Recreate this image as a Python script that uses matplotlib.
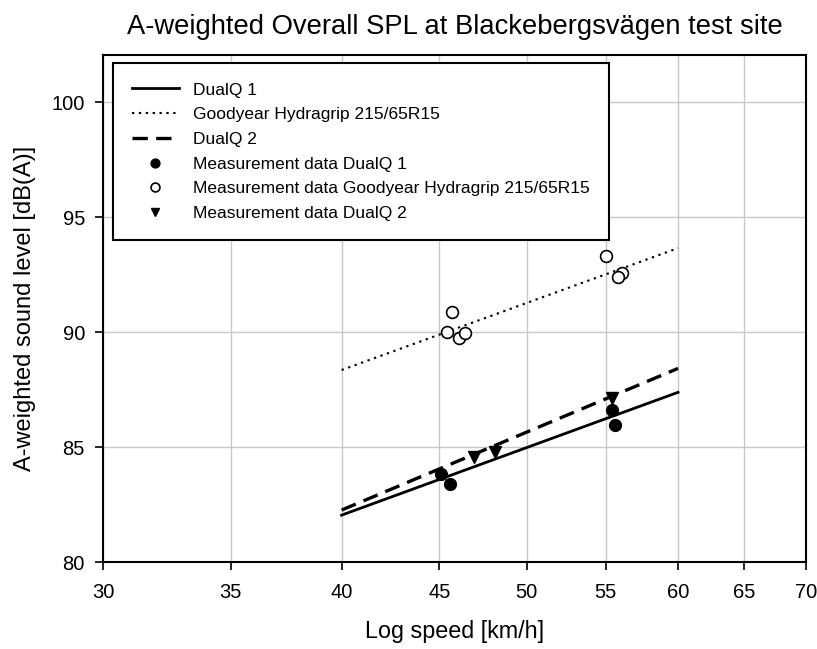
import numpy as np
import matplotlib
matplotlib.use("Agg")
import matplotlib.pyplot as plt
from matplotlib.ticker import FixedLocator, FixedFormatter, NullLocator

plt.rcParams['font.family'] = ['Liberation Sans', 'DejaVu Sans']

# fitted lines (end points of each regression, log speed axis)
fit_speed = [40, 60]
fit_dualq1 = [82.04, 87.38]
fit_goodyear = [88.35, 93.65]
fit_dualq2 = [82.26, 88.42]

# measurement data
dq1_speed = [45.1, 45.6, 55.4, 55.6]
dq1_level = [83.81, 83.39, 86.61, 85.96]
gy_speed = [45.7, 45.4, 46.1, 46.4, 55.0, 56.05, 55.8]
gy_level = [90.88, 90.01, 89.73, 89.94, 93.30, 92.58, 92.40]
dq2_speed = [46.9, 48.1, 55.4]
dq2_level = [84.58, 84.80, 87.14]

xticks = [30, 35, 40, 45, 50, 55, 60, 65, 70]
yticks = [80, 85, 90, 95, 100]

fig = plt.figure(figsize=(8.17, 6.49), dpi=100, facecolor='white')
ax = fig.add_axes([0.126, 0.134, 0.8605, 0.781])

ax.plot(fit_speed, fit_dualq1, color='black', lw=2, label='DualQ 1')
ax.plot(fit_speed, fit_goodyear, color='black', lw=1.5, linestyle=(0, (1.1, 2.2)),
        label='Goodyear Hydragrip 215/65R15')
ax.plot(fit_speed, fit_dualq2, color='black', lw=2.4, linestyle=(0, (4.6, 2.5)),
        label='DualQ 2')
ax.plot(dq1_speed, dq1_level, 'o', color='black', ms=8.5, ls='none',
        label='Measurement data DualQ 1')
ax.plot(gy_speed, gy_level, 'o', mfc='white', mec='black', mew=1.2, ms=8.5, ls='none',
        label='Measurement data Goodyear Hydragrip 215/65R15')
ax.plot(dq2_speed, dq2_level, 'v', color='black', ms=8.5, ls='none',
        label='Measurement data DualQ 2')

ax.set_xscale('log')
ax.set_xlim(30, 70)
ax.set_ylim(80, 102.04)
ax.xaxis.set_major_locator(FixedLocator(xticks))
ax.xaxis.set_major_formatter(FixedFormatter([str(t) for t in xticks]))
ax.xaxis.set_minor_locator(NullLocator())
ax.set_yticks(yticks)

ax.grid(True, color='#c8c8c8', lw=1)
ax.set_axisbelow(True)
for s in ax.spines.values():
    s.set_linewidth(1.5)
ax.tick_params(direction='out', length=6, width=1.2, labelsize=14.5,
               top=False, right=False)
ax.tick_params(axis='x', pad=9)
ax.tick_params(axis='y', pad=7)

ax.set_xlabel('Log speed [km/h]', fontsize=16.8, labelpad=13)
ax.set_ylabel('A-weighted sound level [dB(A)]', fontsize=17, labelpad=11)
ax.set_title('A-weighted Overall SPL at Blackebergsvägen test site', fontsize=19.7, pad=15)

leg = ax.legend(loc='upper left', bbox_to_anchor=(0.0142, 0.984), fontsize=12.5,
                frameon=True, fancybox=False, edgecolor='black', framealpha=1,
                handlelength=2.7, handletextpad=0.8, labelspacing=0.55,
                borderpad=1.1, markerscale=0.75, borderaxespad=0)
leg.get_frame().set_linewidth(1.5)

fig.savefig('out.png', dpi=100)
